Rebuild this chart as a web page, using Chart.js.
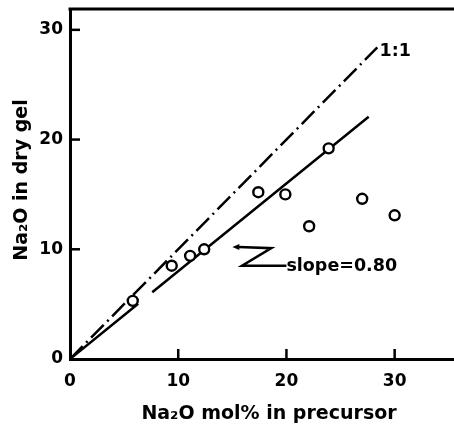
<!DOCTYPE html>
<html>
<head>
<meta charset="utf-8">
<script src="https://cdn.jsdelivr.net/npm/chart.js@4.4.1/dist/chart.umd.min.js"></script>
<style>
  html, body { margin: 0; padding: 0; background: #fff; }
  #wrap { width: 454px; height: 427px; position: relative; }
</style>
</head>
<body>
<div id="wrap"><canvas id="gelChart"></canvas></div>
<script>
// Na2O content: precursor (mol%) vs dry gel
const precursorNa2O = [5.8, 9.4, 11.1, 12.4, 17.4, 19.9, 22.1, 23.9, 27.0, 30.0];
const gelNa2O = [5.3, 8.5, 9.4, 10.0, 15.2, 15.0, 12.1, 19.2, 14.6, 13.1];

// reference lines
const oneToOneX = [0, 28.4];
const fitSlope = 0.80;
const fitX = [0, 6.3, null, 7.6, 27.6];

const xTicks = [0, 10, 20, 30];
const yTicks = [0, 10, 20, 30];

const FAMILY = '"DejaVu Sans", sans-serif';

const points = precursorNa2O.map((x, i) => ({ x: x, y: gelNa2O[i] }));
const oneToOne = oneToOneX.map(x => ({ x: x, y: x }));
const fitLine = fitX.map(x => x === null ? { x: NaN, y: NaN } : { x: x, y: fitSlope * x });

// frame, inward ticks, titles and labels
const decorations = {
  id: 'decorations',
  afterDraw(chart) {
    const ctx = chart.ctx;
    const xs = chart.scales.x;
    const ys = chart.scales.y;
    const area = chart.chartArea;
    const px = v => xs.getPixelForValue(v);
    const py = v => ys.getPixelForValue(v);
    const edge = chart.width;

    ctx.save();
    ctx.strokeStyle = '#000';
    ctx.fillStyle = '#000';
    ctx.lineCap = 'butt';

    // top frame line and bottom axis run out to the edge
    ctx.lineWidth = 3;
    ctx.beginPath();
    ctx.moveTo(area.left - 1.5, area.top);
    ctx.lineTo(edge, area.top);
    ctx.moveTo(area.right - 2, area.bottom + 0.5);
    ctx.lineTo(edge, area.bottom + 0.5);
    ctx.stroke();

    // ticks pointing into the plot
    ctx.lineWidth = 2.5;
    yTicks.forEach(v => {
      if (v === 0) return;
      ctx.beginPath();
      ctx.moveTo(area.left, py(v));
      ctx.lineTo(area.left + 10, py(v));
      ctx.stroke();
    });
    xTicks.forEach(v => {
      if (v === 0) return;
      ctx.beginPath();
      ctx.moveTo(px(v), area.bottom);
      ctx.lineTo(px(v), area.bottom - 10);
      ctx.stroke();
    });

    ctx.textBaseline = 'middle';

    // axis titles
    ctx.font = 'bold 19px ' + FAMILY;
    ctx.textAlign = 'center';
    ctx.fillText('Na\u2082O mol% in precursor', 269, 414);
    ctx.save();
    ctx.translate(22, 180);
    ctx.rotate(-Math.PI / 2);
    ctx.fillText('Na\u2082O in dry gel', 0, 0);
    ctx.restore();

    // line labels
    ctx.font = 'bold 17.5px ' + FAMILY;
    ctx.textAlign = 'left';
    ctx.fillText('1:1', px(28.6), py(28.0));
    ctx.fillText('slope=0.80', px(20.0), py(8.4));

    // Z-shaped pointer from the label to the fit line
    ctx.lineWidth = 2.5;
    ctx.beginPath();
    ctx.moveTo(px(20.0), py(8.5));
    ctx.lineTo(px(15.9), py(8.5));
    ctx.lineTo(px(18.6), py(10.1));
    ctx.lineTo(px(15.6), py(10.2));
    ctx.stroke();
    const ax = px(15.0), ay = py(10.2);
    ctx.beginPath();
    ctx.moveTo(ax, ay);
    ctx.lineTo(ax + 7, ay - 3);
    ctx.lineTo(ax + 7, ay + 3);
    ctx.closePath();
    ctx.fill();

    ctx.restore();
  }
};

const ctx = document.getElementById('gelChart').getContext('2d');
const gelChart = new Chart(ctx, {
  type: 'scatter',
  data: {
    datasets: [
      {
        label: 'samples',
        data: points,
        pointRadius: 5,
        pointBorderWidth: 2.4,
        pointBorderColor: '#000',
        pointBackgroundColor: '#fff',
        showLine: false,
        order: 0
      },
      {
        label: '1:1',
        data: oneToOne,
        showLine: true,
        pointRadius: 0,
        borderColor: '#000',
        borderWidth: 2.5,
        borderDash: [18, 5, 2, 5],
        order: 2
      },
      {
        label: 'slope',
        data: fitLine,
        showLine: true,
        spanGaps: false,
        pointRadius: 0,
        borderColor: '#000',
        borderWidth: 2.5,
        order: 1
      }
    ]
  },
  options: {
    responsive: true,
    maintainAspectRatio: false,
    animation: false,
    layout: { padding: { top: 9, right: 0, left: 0, bottom: 0 } },
    plugins: {
      legend: { display: false },
      tooltip: { enabled: false }
    },
    scales: {
      x: {
        type: 'linear',
        min: 0,
        max: 34.8,
        grid: { display: false, drawTicks: false },
        border: { display: true, width: 3, color: '#000' },
        afterBuildTicks: scale => { scale.ticks = xTicks.map(v => ({ value: v })); },
        afterFit: scale => {
          scale.height = 68;
          scale.paddingLeft = 0;
          scale.paddingRight = 0;
        },
        ticks: {
          color: '#000',
          padding: 12,
          maxRotation: 0,
          font: { family: FAMILY, size: 17, weight: 'bold' }
        }
      },
      y: {
        type: 'linear',
        min: 0,
        max: 31.9,
        grid: { display: false, drawTicks: false },
        border: { display: true, width: 3, color: '#000' },
        afterBuildTicks: scale => { scale.ticks = yTicks.map(v => ({ value: v })); },
        afterFit: scale => {
          scale.width = 70;
          scale.paddingTop = 0;
          scale.paddingBottom = 0;
        },
        ticks: {
          color: '#000',
          padding: 7,
          font: { family: FAMILY, size: 17, weight: 'bold' }
        }
      }
    }
  },
  plugins: [decorations]
});
</script>
</body>
</html>
